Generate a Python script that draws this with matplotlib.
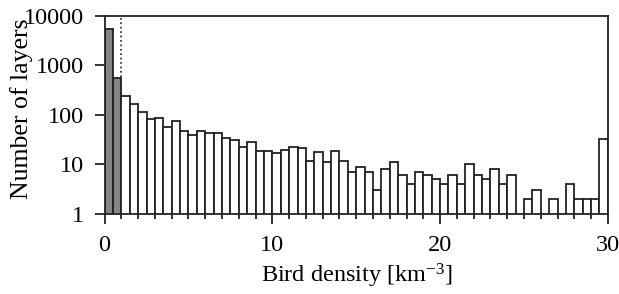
import numpy as np
import matplotlib
matplotlib.use('Agg')
import matplotlib.pyplot as plt
from matplotlib.ticker import FixedLocator, FixedFormatter, MultipleLocator, NullFormatter

plt.rcParams['font.family'] = ['Liberation Serif', 'DejaVu Serif']
plt.rcParams['mathtext.default'] = 'regular'

# histogram of bird density, bins of 0.5 km^-3 from 0 to 30
bin_width = 0.5
bin_edges = np.arange(0, 30, bin_width)
counts = [5500, 570, 240, 170, 113, 83, 86, 58, 76, 47,
          40, 47, 43, 44, 34, 31, 23, 29, 19, 19,
          17, 20, 23, 22, 12, 18, 11, 19, 12, 7,
          9, 7, 3, 8, 11, 6, 4, 7, 6, 5,
          4, 6, 4, 10, 6, 5, 8, 4, 6, 0,
          2, 3, 0, 2, 0, 4, 2, 2, 2, 33]
threshold = 1.0

counts = np.array(counts)
fill = ['#858585' if e < threshold else 'white' for e in bin_edges]
mask = counts > 0

fig = plt.figure(figsize=(6.19, 2.94), dpi=100)
ax = fig.add_axes([0.169, 0.272, 0.813, 0.674])

ax.axvline(threshold, color='#222222', linestyle=':', linewidth=1.2, zorder=1)
ax.bar(bin_edges[mask], counts[mask], width=bin_width, align='edge',
       color=np.array(fill)[mask], edgecolor='#222222', linewidth=1.3, zorder=2)

ax.set_yscale('log')
ax.set_ylim(1, 10000)
ax.set_xlim(0, 30)

ax.yaxis.set_major_locator(FixedLocator([1, 10, 100, 1000, 10000]))
ax.yaxis.set_major_formatter(FixedFormatter(['1', '10', '100', '1000', '10000']))
ax.yaxis.set_minor_formatter(NullFormatter())
ax.xaxis.set_major_locator(MultipleLocator(10))
ax.xaxis.set_minor_locator(MultipleLocator(1))

ax.tick_params(which='major', direction='out', length=7.5, width=1.3,
               labelsize=17.5, pad=7.5, color='#222222')
ax.tick_params(which='minor', direction='out', length=3.8, width=1.3, color='#222222')
ax.tick_params(axis='x', which='major', pad=7.5)

for s in ax.spines.values():
    s.set_linewidth(1.3)
    s.set_color('#222222')

ax.set_xlabel('Bird density [km$^{-3}$]', fontsize=17.5)
ax.set_ylabel('Number of layers', fontsize=18.5)
ax.xaxis.set_label_coords(0.5, -0.242)
ax.yaxis.set_label_coords(-0.142, 0.53)

fig.savefig('out.png', dpi=100)
